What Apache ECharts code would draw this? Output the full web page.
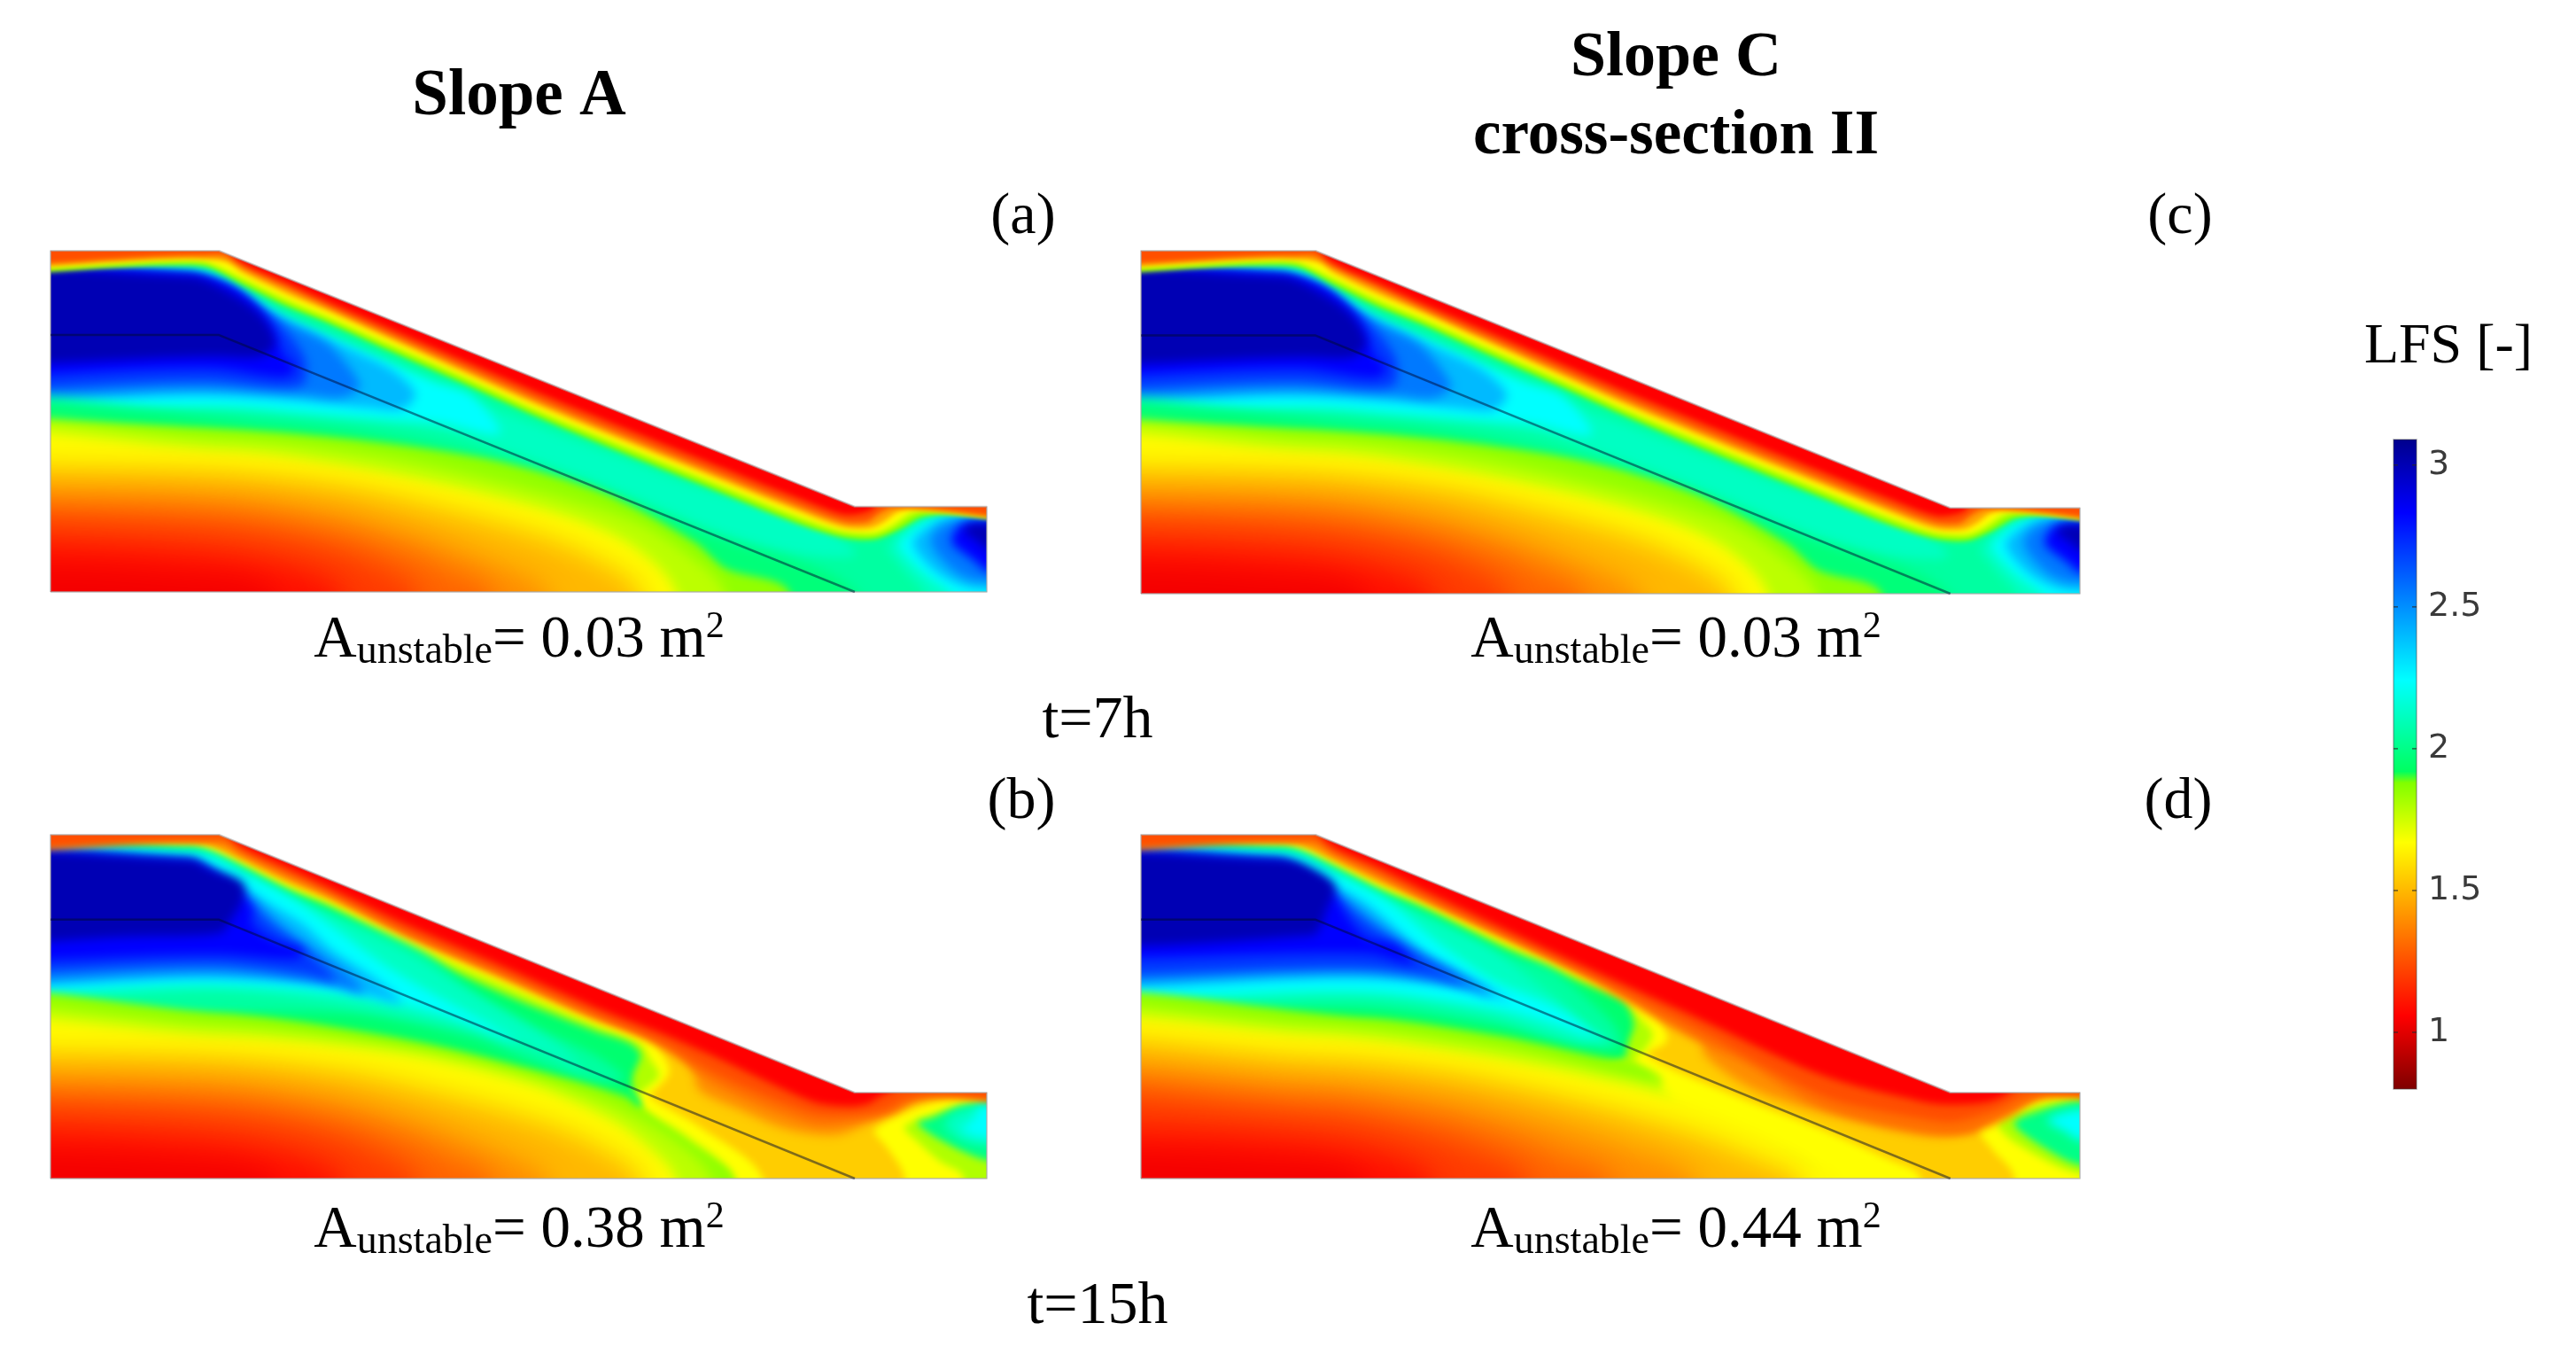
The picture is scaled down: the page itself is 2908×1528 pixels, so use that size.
<!DOCTYPE html>
<html><head><meta charset="utf-8">
<style>html,body{margin:0;padding:0;background:#fff}#c{width:2908px;height:1528px}</style>
<script src="https://cdn.jsdelivr.net/npm/echarts@6/dist/echarts.min.js"></script>
</head><body><div id="c"></div>
<script>
// ---- colour scale: [value, colour]
const colourStops = [[0.8,'#7d0000'],[1.06,'#ff0000'],[1.67,'#ffff00'],[1.88,'#80ff00'],[1.92,'#00ff60'],[2.24,'#00ffff'],[2.83,'#0000ff'],[3.09,'#00008c']];
const barTicks = [1,1.5,2,2.5,3];
// ---- geometry of the sections (x, y in normalised section units 0..1000)
const groundY = [0,1000,1000,250,250,0,0];
const groundXA = [0,0,180,859,1000,1000,0];
const groundXC = [0,0,186,862,1000,1000,0];
const layerY = [753,753,0];
const layerXA = [0,180,859];
const layerXC = [0,186,862];

const all = [[-100,-100],[1100,-100],[1100,1100],[-100,1100]];
const up = (v,p,b=6)=>[v,p.concat([[1200,1300],[-200,1300]]),b];
const dn = (v,p,b=30)=>[v,p.concat([[p[p.length-1][0],-250],[-200,-250]]),b];

// ---- isolines of LFS: level, polyline
const core106 = [[-200,75],[0,73],[120,55],[236,0]];
const core115 = [[-200,145],[0,143],[170,115],[260,70],[310,0]];
const core125 = [[-200,214],[0,212],[190,185],[290,135],[350,75],[390,0]];
const core135 = [[-200,257],[0,255],[190,235],[300,185],[380,120],[430,60],[470,0]];
const core145 = [[-200,300],[0,298],[190,282],[310,235],[400,165],[470,90],[530,0]];
const core155 = [[-200,369],[0,367],[190,352],[320,310],[430,240],[530,160],[590,85],[630,0]];

const field7h = [
 [2.05,all,0],
 // high values, main block
 [2.12,[[-200,531],[191,528],[290,505],[416,470],[500,400],[600,300],[720,165],[800,110],[860,110],[815,205],[700,300],[600,405],[500,510],[449,565],[362,665],[299,742],[252,798],[205,876],[160,938],[-200,950]]],
 [2.24,[[-200,557],[191,546],[290,525],[390,503],[416,497],[480,465],[449,577],[410,615],[362,672],[299,748],[252,804],[205,881],[160,942],[-200,946]]],
 [2.4,[[-200,588],[173,575],[268,560],[340,540],[375,535],[390,580],[365,650],[320,712],[283,756],[236,817],[189,886],[151,931],[-200,942]]],
 [2.55,[[-200,605],[173,595],[268,580],[310,570],[330,600],[320,655],[295,730],[255,785],[200,858],[146,925],[-200,939]]],
 [2.7,[[-200,627],[173,617],[240,600],[270,610],[272,680],[255,755],[228,825],[189,898],[145,934],[-200,936]]],
 [2.83,[[-200,660],[173,655],[250,630],[262,660],[250,690],[235,782],[200,886],[151,930],[-200,933]]],
 [3.0,[[-200,690],[180,690],[225,690],[240,730],[225,810],[190,880],[150,925],[-200,925]]],
 // high values, right block
 [2.12,[[1200,226],[956,226],[925,205],[893,131],[899,105],[918,44],[931,10],[937,-25],[1200,-200]]],
 [2.24,[[1200,222],[956,222],[931,200],[909,153],[906,135],[918,92],[937,44],[956,9],[966,-17],[1200,-200]]],
 [2.4,[[1200,220],[960,218],[940,195],[921,148],[929,105],[947,57],[969,24],[990,10],[1200,0]]],
 [2.55,[[1200,216],[975,212],[950,190],[940,150],[950,101],[969,54],[988,34],[1200,10]]],
 [2.83,[[1200,207],[1000,205],[972,196],[962,148],[975,114],[988,88],[1000,62],[1200,50]]],
 [3.0,[[1200,200],[985,200],[975,180],[990,150],[1000,125],[1200,120]]],
 // dome of low values
 dn(1.97,[[-200,520],[257,490],[416,425],[560,320],[700,170],[860,0]],14),
 dn(1.85,[[-200,499],[0,499],[257,465],[456,396],[589,292],[688,146],[721,69],[788,4]],10),
 dn(1.78,[[-200,462],[190,450],[350,400],[500,310],[620,210],[680,110],[720,0]],14),
 dn(1.66,[[-200,428],[190,415],[320,370],[456,295],[560,215],[625,130],[668,0]],14),
 dn(1.5,core155),dn(1.4,core145),dn(1.3,core135),dn(1.2,core125),dn(1.1,core115),dn(1.04,core106),
 // low-value skin under the ground surface
 up(1.88,[[-200,960],[150,960],[172,950],[205,902],[252,838],[299,786],[362,707],[450,600],[520,513],[600,420],[700,309],[798,200],[846,160],[880,155],[909,187],[931,220],[956,230],[1200,227]]),
 up(1.8,[[-200,966],[150,966],[172,958],[205,912],[252,848],[299,795],[362,718],[450,611],[520,524],[600,432],[700,321],[798,212],[846,170],[880,165],[904,191],[925,226],[945,233],[1200,231]]),
 up(1.67,[[-200,972],[148,973],[164,970],[179,955],[205,920],[252,858],[299,804],[362,727],[450,621],[520,533],[600,442],[700,331],[798,222],[846,179],[880,174],[899,196],[918,231],[931,238],[1200,236]]),
 up(1.45,[[-200,979],[150,979],[172,975],[190,965],[205,937],[252,875],[299,821],[362,743],[450,634],[520,548],[600,457],[700,346],[798,238],[846,190],[875,187],[890,205],[905,235],[920,245],[1200,242]]),
 up(1.25,[[-200,985],[160,985],[185,985],[205,952],[252,892],[299,833],[362,755],[450,648],[520,563],[600,472],[700,361],[798,253],[846,206],[872,205],[885,230],[900,248],[1200,246]]),
 [1.06,[[190,1300],[190,1010],[205,965],[252,907],[299,848],[362,773],[450,668],[520,585],[600,495],[700,384],[798,276],[846,228],[868,232],[880,250],[880,300],[1200,1300]],6]
];

const fieldB = [
 [1.4,all,0],
 [1.55,[[-200,976],[160,976],[175,960],[205,928],[252,866],[299,812],[382,703],[481,590],[581,465],[674,377],[687,308],[693,256],[733,204],[786,144],[839,127],[873,161],[912,213],[959,243],[1045,252],[1200,250],[1200,-250],[-200,-250]]],
 dn(1.67,[[-200,972],[164,970],[179,955],[205,920],[252,858],[299,804],[382,695],[481,575],[581,456],[637,410],[654,360],[661,308],[647,260],[640,239],[693,151],[760,6]],8),
 [1.67,[[1200,240],[979,235],[926,205],[880,140],[893,92],[912,6],[912,-200],[1200,-200]],8],
 dn(1.8,[[-200,966],[150,966],[170,950],[205,912],[252,848],[299,795],[382,683],[481,565],[581,445],[630,390],[640,350],[650,300],[635,260],[625,235],[660,130],[690,70],[728,6]],8),
 [1.8,[[1200,232],[1000,228],[945,190],[912,150],[925,110],[950,50],[975,5],[975,-200],[1200,-200]],8],
 [1.95,[[-200,960],[150,960],[165,950],[205,902],[252,838],[299,786],[382,664],[481,540],[581,430],[618,395],[630,360],[622,300],[622,262],[630,225],[630,204],[580,150],[-200,150]],8],
 [2.0,[[1200,226],[979,213],[939,174],[926,161],[952,110],[1000,53],[1200,-50]],8],
 [2.05,[[-200,515],[315,480],[448,412],[514,343],[581,282],[614,290],[581,360],[514,446],[448,550],[395,661],[299,775],[252,830],[205,895],[170,945],[150,957],[-200,957]]],
 [2.12,[[-200,545],[182,541],[315,506],[448,437],[534,360],[567,317],[547,377],[448,541],[382,653],[299,765],[252,815],[205,890],[170,940],[150,952],[-200,952]]],
 [2.12,[[1200,215],[1000,215],[965,190],[955,150],[985,100],[1200,70]]],
 [2.24,[[-200,571],[182,565],[315,537],[415,481],[501,390],[470,445],[395,558],[355,625],[315,705],[262,808],[209,885],[159,943],[-200,946]]],
 [2.24,[[1200,210],[995,213],[985,170],[972,144],[1000,118],[1200,100]]],
 [2.4,[[-200,590],[182,582],[300,560],[375,510],[350,575],[302,662],[270,740],[229,808],[190,880],[150,932],[-200,940]]],
 [2.55,[[-200,607],[182,600],[290,570],[335,540],[320,590],[290,650],[250,730],[215,815],[180,880],[147,928],[-200,936]]],
 [2.7,[[-200,630],[182,622],[270,595],[305,575],[290,620],[265,680],[235,740],[205,820],[175,885],[145,925],[-200,933]]],
 [2.83,[[-200,662],[182,652],[262,640],[270,665],[240,690],[215,740],[215,790],[185,860],[150,910],[-200,925]]],
 [3.0,[[-200,700],[100,705],[182,715],[192,750],[205,810],[205,860],[170,900],[150,928],[-200,932]]],
 dn(1.85,[[-200,502],[182,481],[382,403],[514,317],[614,239],[630,204],[680,120],[730,0]],10),
 dn(1.78,[[-200,462],[182,447],[382,380],[514,295],[600,215],[665,110],[705,0]],14),
 dn(1.66,[[-200,424],[182,416],[382,360],[514,273],[600,170],[640,90],[668,0]],14),
 dn(1.5,core155),dn(1.4,core145),dn(1.3,core135),dn(1.2,core125),dn(1.1,core115),dn(1.04,core106),
 up(1.33,[[-200,982],[185,982],[205,945],[252,884],[299,828],[382,710],[481,595],[581,472],[650,385],[713,270],[813,160],[860,165],[900,190],[925,230],[950,240],[1200,244]],10),
 up(1.25,[[-200,985],[160,985],[185,985],[205,952],[252,892],[299,833],[382,716],[481,600],[581,479],[650,400],[713,300],[813,190],[855,185],[892,200],[912,230],[939,243],[1200,246]],10),
 [1.06,[[190,1300],[190,1010],[205,965],[252,905],[299,845],[382,737],[481,620],[581,499],[650,425],[713,350],[813,225],[850,210],[873,218],[886,239],[900,260],[1200,1300]],8]
];

const fieldD = [
 [1.4,all,0],
 [1.55,[[-200,976],[160,976],[175,960],[205,928],[252,866],[310,795],[449,620],[518,548],[580,480],[600,420],[600,360],[657,253],[761,167],[844,124],[886,142],[927,193],[969,245],[1200,252],[1200,-250],[-200,-250]]],
 dn(1.67,[[-200,972],[164,970],[179,955],[205,920],[252,858],[299,804],[382,700],[450,615],[518,545],[553,459],[560,399],[539,360],[622,253],[726,142],[796,56],[830,4]],8),
 [1.67,[[1200,240],[1000,238],[935,205],[892,150],[905,90],[930,6],[930,-200],[1200,-200]],8],
 [1.8,[[-200,966],[150,966],[170,950],[205,912],[252,848],[299,795],[382,688],[450,605],[505,530],[530,470],[545,420],[535,370],[525,345],[555,290],[530,200],[-200,100]],8],
 [1.8,[[1200,232],[1000,232],[941,202],[913,159],[934,99],[1000,13],[1200,-50]],8],
 [1.95,[[-200,960],[150,960],[165,950],[205,902],[252,838],[299,786],[382,675],[450,590],[490,545],[515,511],[525,450],[518,390],[515,352],[490,330],[-200,100]],8],
 [2.0,[[1200,228],[1000,224],[950,190],[930,159],[962,90],[1000,39],[1200,-50]],8],
 [2.05,[[-200,520],[241,495],[380,445],[470,385],[510,385],[505,442],[477,519],[435,610],[382,660],[299,775],[252,830],[205,895],[170,945],[150,957],[-200,957]]],
 [2.12,[[-200,545],[241,525],[370,475],[450,410],[480,400],[460,480],[420,570],[370,670],[299,765],[252,822],[205,890],[170,940],[150,952],[-200,952]]],
 [2.24,[[-200,562],[241,545],[380,494],[449,442],[498,392],[440,500],[380,570],[340,640],[310,700],[262,808],[209,885],[159,943],[-200,946]]],
 [2.24,[[1200,205],[1000,202],[965,170],[985,135],[1000,110],[1200,90]]],
 [2.4,[[-200,590],[241,580],[345,555],[394,515],[345,590],[310,640],[275,720],[240,800],[195,870],[150,932],[-200,940]]],
 [2.55,[[-200,607],[241,600],[330,565],[375,530],[330,610],[290,670],[255,735],[220,810],[180,880],[147,928],[-200,936]]],
 [2.7,[[-200,630],[241,612],[310,590],[345,560],[310,620],[275,680],[240,745],[205,825],[175,885],[145,925],[-200,933]]],
 [2.83,[[-200,670],[241,655],[290,625],[270,680],[240,700],[222,751],[206,820],[185,860],[150,910],[-200,925]]],
 [3.0,[[-200,702],[182,708],[198,785],[206,854],[172,915],[145,930],[-200,932]]],
 dn(1.85,[[-200,502],[241,468],[380,416],[484,356],[520,335],[545,290],[520,200],[500,0]],10),
 dn(1.78,[[-200,462],[190,448],[380,385],[500,310],[550,270],[570,200],[620,130],[690,60],[720,0]],14),
 dn(1.66,[[-200,430],[190,418],[380,352],[518,275],[588,220],[657,142],[726,39],[745,0]],14),
 dn(1.5,[[-200,367],[190,352],[330,310],[470,225],[590,130],[680,30],[700,0]]),
 dn(1.4,[[-200,298],[190,282],[320,240],[420,175],[510,100],[590,0]]),
 dn(1.3,[[-200,255],[190,235],[310,185],[390,125],[450,60],[500,0]]),
 dn(1.2,[[-200,212],[190,185],[290,135],[360,75],[410,0]]),
 dn(1.1,core115),dn(1.04,core106),
 up(1.33,[[-200,982],[185,982],[205,945],[252,884],[310,803],[449,622],[588,405],[640,340],[726,205],[830,135],[880,130],[925,180],[965,243],[1200,248]],10),
 up(1.25,[[-200,985],[160,985],[185,985],[205,952],[252,892],[310,811],[449,632],[588,440],[726,240],[830,175],[865,165],[913,200],[948,245],[1200,250]],10),
 [1.06,[[190,1300],[190,1010],[205,965],[252,907],[310,827],[449,646],[588,473],[726,300],[830,225],[860,215],[905,225],[930,265],[1200,1300]],8]
];

function hex(c){return [1,3,5].map(i=>parseInt(c.substr(i,2),16));}
function colourOf(v){
  for(let i=1;i<colourStops.length;i++){
    if(v<=colourStops[i][0]){
      const a=colourStops[i-1],b=colourStops[i],t=Math.max(0,(v-a[0])/(b[0]-a[0]));
      const p=hex(a[1]),q=hex(b[1]);
      return 'rgb('+p.map((x,k)=>Math.round(x+(q[k]-x)*t)).join(',')+')';
    }
  }
  return colourStops[colourStops.length-1][1];
}

const panels = [
 {field:field7h,left:57,top:283,width:1057,height:385,gx:groundXA,lx:layerXA},
 {field:fieldB,left:57,top:942,width:1057,height:388,gx:groundXA,lx:layerXA},
 {field:field7h,left:1288,top:283,width:1060,height:387,gx:groundXC,lx:layerXC},
 {field:fieldD,left:1288,top:942,width:1060,height:388,gx:groundXC,lx:layerXC}
];
const FAR=5000;
const grids=[],xAxes=[],yAxes=[],series=[];
panels.forEach((p,i)=>{
  grids.push({left:p.left,top:p.top,width:p.width,height:p.height});
  xAxes.push({type:'value',gridIndex:i,min:0,max:1000,show:false});
  yAxes.push({type:'value',gridIndex:i,min:0,max:1000,show:false});
  const air=[[p.gx[2],1000],[p.gx[3],250],[1200,250],[1200,1300],[p.gx[2],1300]];
  const rings=p.field.concat([[null,air,0]]);
  series.push({type:'custom',xAxisIndex:i,yAxisIndex:i,clip:true,silent:true,
    data:rings.map((r,k)=>[k]),
    encode:{x:-1,y:-1},
    renderItem:(params,api)=>{
      const r=rings[params.dataIndex];
      const pts=r[1].map(q=>api.coord(q));
      if(r[0]===null) return {type:'polygon',shape:{points:pts},style:{fill:'#fff'}};
      const col=colourOf(r[0]);
      const b=r[2]===undefined?12:r[2];
      if(b===0) return {type:'polygon',shape:{points:pts},style:{fill:col}};
      // soft-edged isoband: only the blurred shadow of the polygon lands in the panel
      return {type:'polygon',shape:{points:pts.map(q=>[q[0]-FAR,q[1]]),smooth:0.3},
        style:{fill:col,shadowBlur:b,shadowColor:col,shadowOffsetX:FAR}};
    }});
  series.push({type:'line',xAxisIndex:i,yAxisIndex:i,silent:true,symbol:'none',clip:false,
    data:p.gx.map((x,k)=>[x,groundY[k]]),lineStyle:{color:'rgba(170,170,170,0.6)',width:2}});
  series.push({type:'line',xAxisIndex:i,yAxisIndex:i,silent:true,symbol:'none',
    data:p.lx.map((x,k)=>[x,layerY[k]]),lineStyle:{color:'rgba(0,10,50,0.5)',width:2.5}});
});
// colour bar
grids.push({left:2702,top:496,width:26,height:733});
xAxes.push({type:'value',gridIndex:4,min:0,max:1,show:false});
yAxes.push({type:'value',gridIndex:4,min:0.8,max:3.09,position:'right',
  axisLine:{show:false},splitLine:{show:false},axisTick:{show:false},
  axisLabel:{show:true,customValues:barTicks,margin:13,padding:[6,0,0,0],fontFamily:'DejaVu Sans',fontSize:38,color:'#3a3a3a',formatter:v=>String(v)}});
series.push({type:'custom',xAxisIndex:4,yAxisIndex:4,silent:true,data:[[0,0.8,1,3.09]],encode:{x:[0,2],y:[1,3]},
  renderItem:(params,api)=>{
    const a=api.coord([api.value(0),api.value(3)]),b=api.coord([api.value(2),api.value(1)]);
    const kids=[{type:'rect',shape:{x:a[0],y:a[1],width:b[0]-a[0],height:b[1]-a[1]},
      style:{stroke:'rgba(70,70,70,0.45)',lineWidth:1.5,fill:new echarts.graphic.LinearGradient(0,1,0,0,
        colourStops.map(s=>({offset:(s[0]-0.8)/(3.09-0.8),color:s[1]})))}}];
    barTicks.forEach(t=>{
      const y=api.coord([0,t])[1];
      kids.push({type:'line',shape:{x1:a[0],y1:y,x2:a[0]+5,y2:y},style:{stroke:'rgba(40,40,40,0.7)',lineWidth:1.5}});
      kids.push({type:'line',shape:{x1:b[0]-5,y1:y,x2:b[0],y2:y},style:{stroke:'rgba(40,40,40,0.7)',lineWidth:1.5}});
    });
    return {type:'group',children:kids};
  }});

const serif='"Liberation Serif"';
const areaRich={a:{fontFamily:serif,fontSize:67,fontWeight:'normal',color:'#000'},
  u:{fontFamily:serif,fontSize:46,fontWeight:'normal',color:'#000',verticalAlign:'bottom',lineHeight:72},
  s:{fontFamily:serif,fontSize:42,fontWeight:'normal',color:'#000',verticalAlign:'top',lineHeight:72}};
const txt=(text,x,y,size,bold)=>({text,left:x,top:y,textAlign:'center',textVerticalAlign:'middle',
  textStyle:{fontFamily:serif,fontSize:size,fontWeight:bold?'bold':'normal',color:'#000'},padding:0});
const area=(v,x,y)=>({text:'{a|A}{u|unstable}{a|= '+v+' m}{s|2}',left:x,top:y,textAlign:'center',textVerticalAlign:'middle',padding:0,
  textStyle:{fontWeight:'normal',rich:areaRich}});
const titles=[
 txt('Slope A',586,110,73,true),txt('Slope C',1892,66,72,true),txt('cross-section II',1892,155,71,true),
 txt('(a)',1155,246,66),txt('(c)',2461,246,66),txt('(b)',1153,906,66),txt('(d)',2459,906,66),
 txt('t=7h',1239,814,68),txt('t=15h',1239,1475,68),txt('LFS [-]',2764,392,64),
 area('0.03',586,723),area('0.03',1892,723),area('0.38',586,1389),area('0.44',1892,1389)
];
const chart=echarts.init(document.getElementById('c'),null,{renderer:'canvas'});
chart.setOption({animation:false,backgroundColor:'#fff',title:titles,grid:grids,xAxis:xAxes,yAxis:yAxes,series});
</script></body></html>
